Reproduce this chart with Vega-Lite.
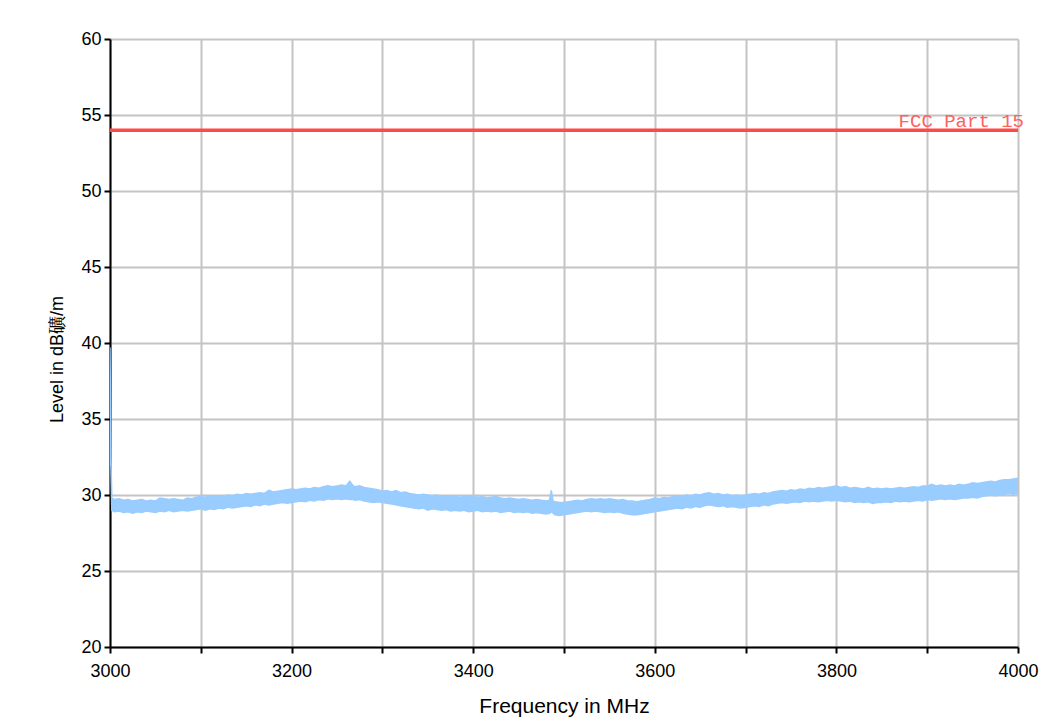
{
"$schema": "https://vega.github.io/schema/vega-lite/v6.json",
"width": 908, "height": 608,
"autosize": {"type": "none"},
"padding": {"left": 110, "top": 39, "right": 43, "bottom": 75},
"background": "white",
"config": {"view": {"stroke": null}, "font": "Liberation Sans"},
"datasets": {
"trace": [
{"f":3000,"lo":32.0,"hi":39.7},{"f":3001,"lo":31.9,"hi":32.3},{"f":3002,"lo":29.0,"hi":29.8},
{"f":3005,"lo":28.9,"hi":29.7},{"f":3010,"lo":28.95,"hi":29.75},{"f":3015,"lo":28.85,"hi":29.65},{"f":3020,"lo":28.9,"hi":29.7},
{"f":3025,"lo":28.8,"hi":29.6},{"f":3030,"lo":28.9,"hi":29.65},{"f":3035,"lo":28.85,"hi":29.7},{"f":3040,"lo":28.95,"hi":29.6},
{"f":3045,"lo":28.9,"hi":29.65},{"f":3050,"lo":28.85,"hi":29.6},{"f":3055,"lo":28.95,"hi":29.8},{"f":3060,"lo":28.9,"hi":29.75},
{"f":3065,"lo":29.0,"hi":29.7},{"f":3070,"lo":28.9,"hi":29.75},{"f":3075,"lo":28.95,"hi":29.7},{"f":3080,"lo":29.0,"hi":29.65},
{"f":3085,"lo":28.95,"hi":29.8},{"f":3090,"lo":29.0,"hi":29.75},{"f":3095,"lo":29.05,"hi":29.85},{"f":3100,"lo":29.1,"hi":29.9},
{"f":3105,"lo":29.0,"hi":29.85},{"f":3110,"lo":29.1,"hi":29.95},{"f":3115,"lo":29.05,"hi":29.9},{"f":3120,"lo":29.15,"hi":29.95},
{"f":3125,"lo":29.1,"hi":29.9},{"f":3130,"lo":29.2,"hi":30.0},{"f":3135,"lo":29.15,"hi":29.95},{"f":3140,"lo":29.2,"hi":30.05},
{"f":3145,"lo":29.25,"hi":30.0},{"f":3150,"lo":29.3,"hi":30.1},{"f":3155,"lo":29.25,"hi":30.05},{"f":3160,"lo":29.35,"hi":30.1},
{"f":3165,"lo":29.3,"hi":30.15},{"f":3170,"lo":29.4,"hi":30.1},{"f":3175,"lo":29.35,"hi":30.3},{"f":3180,"lo":29.4,"hi":30.2},
{"f":3185,"lo":29.45,"hi":30.25},{"f":3190,"lo":29.5,"hi":30.3},{"f":3195,"lo":29.45,"hi":30.35},{"f":3200,"lo":29.5,"hi":30.4},
{"f":3205,"lo":29.55,"hi":30.35},{"f":3210,"lo":29.6,"hi":30.4},{"f":3215,"lo":29.55,"hi":30.45},{"f":3220,"lo":29.65,"hi":30.4},
{"f":3225,"lo":29.6,"hi":30.5},{"f":3230,"lo":29.7,"hi":30.45},{"f":3235,"lo":29.65,"hi":30.55},{"f":3240,"lo":29.75,"hi":30.6},
{"f":3245,"lo":29.7,"hi":30.55},{"f":3250,"lo":29.75,"hi":30.6},{"f":3255,"lo":29.7,"hi":30.65},{"f":3260,"lo":29.75,"hi":30.6},
{"f":3264,"lo":29.7,"hi":30.9},{"f":3268,"lo":29.7,"hi":30.6},{"f":3270,"lo":29.65,"hi":30.55},{"f":3275,"lo":29.7,"hi":30.6},
{"f":3280,"lo":29.6,"hi":30.5},{"f":3285,"lo":29.55,"hi":30.45},{"f":3290,"lo":29.5,"hi":30.4},{"f":3295,"lo":29.55,"hi":30.35},
{"f":3300,"lo":29.5,"hi":30.25},{"f":3305,"lo":29.45,"hi":30.3},{"f":3310,"lo":29.4,"hi":30.2},{"f":3315,"lo":29.35,"hi":30.3},
{"f":3320,"lo":29.3,"hi":30.15},{"f":3325,"lo":29.25,"hi":30.2},{"f":3330,"lo":29.2,"hi":30.1},{"f":3335,"lo":29.15,"hi":30.05},
{"f":3340,"lo":29.1,"hi":30.0},{"f":3345,"lo":29.15,"hi":30.05},{"f":3350,"lo":29.0,"hi":30.0},{"f":3355,"lo":29.1,"hi":29.95},
{"f":3360,"lo":29.05,"hi":30.0},{"f":3365,"lo":29.0,"hi":29.9},{"f":3370,"lo":29.05,"hi":29.95},{"f":3375,"lo":28.95,"hi":29.9},
{"f":3380,"lo":29.0,"hi":29.95},{"f":3385,"lo":28.95,"hi":29.85},{"f":3390,"lo":29.0,"hi":29.9},{"f":3395,"lo":28.9,"hi":29.95},
{"f":3400,"lo":28.95,"hi":29.9},{"f":3405,"lo":29.0,"hi":29.85},{"f":3410,"lo":28.9,"hi":29.9},{"f":3415,"lo":28.95,"hi":29.8},
{"f":3420,"lo":28.9,"hi":29.85},{"f":3425,"lo":28.95,"hi":29.9},{"f":3430,"lo":28.85,"hi":29.8},{"f":3435,"lo":28.9,"hi":29.75},
{"f":3440,"lo":28.95,"hi":29.8},{"f":3445,"lo":28.85,"hi":29.75},{"f":3450,"lo":28.9,"hi":29.7},{"f":3455,"lo":28.85,"hi":29.75},
{"f":3460,"lo":28.9,"hi":29.7},{"f":3465,"lo":28.8,"hi":29.65},{"f":3470,"lo":28.85,"hi":29.7},{"f":3475,"lo":28.8,"hi":29.65},
{"f":3480,"lo":28.75,"hi":29.6},{"f":3484,"lo":28.8,"hi":29.65},{"f":3486,"lo":28.9,"hi":30.3},{"f":3488,"lo":28.8,"hi":29.6},
{"f":3490,"lo":28.7,"hi":29.55},{"f":3495,"lo":28.65,"hi":29.5},{"f":3500,"lo":28.7,"hi":29.5},{"f":3505,"lo":28.75,"hi":29.55},
{"f":3510,"lo":28.8,"hi":29.6},{"f":3515,"lo":28.85,"hi":29.65},{"f":3520,"lo":28.9,"hi":29.6},{"f":3525,"lo":28.95,"hi":29.7},
{"f":3530,"lo":28.9,"hi":29.75},{"f":3535,"lo":28.95,"hi":29.7},{"f":3540,"lo":28.9,"hi":29.75},{"f":3545,"lo":28.85,"hi":29.7},
{"f":3550,"lo":28.9,"hi":29.75},{"f":3555,"lo":28.85,"hi":29.7},{"f":3560,"lo":28.9,"hi":29.65},{"f":3565,"lo":28.8,"hi":29.7},
{"f":3570,"lo":28.75,"hi":29.6},{"f":3575,"lo":28.7,"hi":29.6},{"f":3580,"lo":28.7,"hi":29.55},{"f":3585,"lo":28.75,"hi":29.6},
{"f":3590,"lo":28.8,"hi":29.65},{"f":3595,"lo":28.85,"hi":29.7},{"f":3600,"lo":28.9,"hi":29.8},{"f":3605,"lo":28.95,"hi":29.75},
{"f":3610,"lo":29.0,"hi":29.85},{"f":3615,"lo":29.05,"hi":29.8},{"f":3620,"lo":29.1,"hi":29.9},{"f":3625,"lo":29.15,"hi":29.95},
{"f":3630,"lo":29.1,"hi":29.9},{"f":3635,"lo":29.2,"hi":30.0},{"f":3640,"lo":29.15,"hi":29.95},{"f":3645,"lo":29.25,"hi":30.05},
{"f":3650,"lo":29.2,"hi":30.0},{"f":3655,"lo":29.3,"hi":30.1},{"f":3660,"lo":29.35,"hi":30.15},{"f":3665,"lo":29.3,"hi":30.05},
{"f":3670,"lo":29.25,"hi":30.1},{"f":3675,"lo":29.3,"hi":30.0},{"f":3680,"lo":29.2,"hi":30.05},{"f":3685,"lo":29.25,"hi":29.95},
{"f":3690,"lo":29.2,"hi":30.0},{"f":3695,"lo":29.15,"hi":29.95},{"f":3700,"lo":29.2,"hi":30.0},{"f":3705,"lo":29.25,"hi":30.05},
{"f":3710,"lo":29.3,"hi":30.1},{"f":3715,"lo":29.25,"hi":30.05},{"f":3720,"lo":29.35,"hi":30.15},{"f":3725,"lo":29.3,"hi":30.1},
{"f":3730,"lo":29.4,"hi":30.2},{"f":3735,"lo":29.45,"hi":30.25},{"f":3740,"lo":29.5,"hi":30.3},{"f":3745,"lo":29.45,"hi":30.25},
{"f":3750,"lo":29.5,"hi":30.35},{"f":3755,"lo":29.55,"hi":30.3},{"f":3760,"lo":29.5,"hi":30.4},{"f":3765,"lo":29.6,"hi":30.35},
{"f":3770,"lo":29.55,"hi":30.45},{"f":3775,"lo":29.6,"hi":30.4},{"f":3780,"lo":29.55,"hi":30.5},{"f":3785,"lo":29.6,"hi":30.45},
{"f":3790,"lo":29.65,"hi":30.5},{"f":3795,"lo":29.6,"hi":30.55},{"f":3800,"lo":29.65,"hi":30.6},{"f":3805,"lo":29.6,"hi":30.5},
{"f":3810,"lo":29.55,"hi":30.55},{"f":3815,"lo":29.6,"hi":30.45},{"f":3820,"lo":29.5,"hi":30.5},{"f":3825,"lo":29.55,"hi":30.45},
{"f":3830,"lo":29.5,"hi":30.4},{"f":3835,"lo":29.55,"hi":30.5},{"f":3840,"lo":29.45,"hi":30.4},{"f":3845,"lo":29.5,"hi":30.45},
{"f":3850,"lo":29.5,"hi":30.4},{"f":3855,"lo":29.55,"hi":30.45},{"f":3860,"lo":29.5,"hi":30.4},{"f":3865,"lo":29.6,"hi":30.45},
{"f":3870,"lo":29.55,"hi":30.5},{"f":3875,"lo":29.6,"hi":30.45},{"f":3880,"lo":29.55,"hi":30.5},{"f":3885,"lo":29.6,"hi":30.55},
{"f":3890,"lo":29.65,"hi":30.5},{"f":3895,"lo":29.6,"hi":30.6},{"f":3900,"lo":29.7,"hi":30.6},{"f":3905,"lo":29.65,"hi":30.7},
{"f":3910,"lo":29.7,"hi":30.6},{"f":3915,"lo":29.75,"hi":30.65},{"f":3920,"lo":29.7,"hi":30.6},{"f":3925,"lo":29.75,"hi":30.65},
{"f":3930,"lo":29.7,"hi":30.6},{"f":3935,"lo":29.75,"hi":30.7},{"f":3940,"lo":29.8,"hi":30.65},{"f":3945,"lo":29.8,"hi":30.7},
{"f":3950,"lo":29.85,"hi":30.8},{"f":3955,"lo":29.8,"hi":30.75},{"f":3960,"lo":29.9,"hi":30.8},{"f":3965,"lo":29.95,"hi":30.85},
{"f":3970,"lo":30.0,"hi":30.9},{"f":3975,"lo":29.95,"hi":30.85},{"f":3980,"lo":30.0,"hi":30.95},{"f":3985,"lo":30.05,"hi":31.0},
{"f":3990,"lo":30.1,"hi":31.0},{"f":3995,"lo":30.05,"hi":31.05},{"f":4000,"lo":30.1,"hi":31.1}
],
"limit": [{"f":3000,"v":54,"label":""},{"f":4000,"v":54,"label":"FCC Part 15"}]
},
"layer": [
{
"data": {"name": "trace"},
"mark": {"type": "area", "color": "#99ccff", "stroke": "#99ccff", "strokeWidth": 1.5, "clip": true},
"encoding": {
"x": {"field": "f", "type": "quantitative",
"scale": {"domain": [3000, 4000], "nice": false, "zero": false},
"axis": {"title": "Frequency in MHz", "titleFontSize": 21, "titleFontWeight": "normal", "titleColor": "black", "titlePadding": 15,
"values": [3000,3100,3200,3300,3400,3500,3600,3700,3800,3900,4000],
"labelExpr": "datum.value % 200 == 0 ? datum.label : ''", "format": "d",
"labelFontSize": 18, "labelColor": "black", "labelPadding": 9, "labelFlush": false, "labelOverlap": false,
"grid": true, "gridColor": "#c4c4c4", "gridWidth": 2,
"domainColor": "black", "domainWidth": 2, "tickColor": "black", "tickWidth": 2, "tickSize": 6}},
"y": {"field": "hi", "type": "quantitative",
"scale": {"domain": [20, 60], "nice": false, "zero": false},
"axis": {"title": "Level in dB礦/m", "titleFontSize": 18, "titleFontWeight": "normal", "titleColor": "black", "titlePadding": 14, "titleY": 320,
"values": [20,22.5,25,27.5,30,32.5,35,37.5,40,42.5,45,47.5,50,52.5,55,57.5,60],
"labelExpr": "datum.value % 5 == 0 ? datum.label : ''",
"labelFontSize": 18, "labelColor": "black", "labelPadding": 3, "labelFlush": false, "labelOverlap": false,
"grid": true, "gridColor": "#c4c4c4", "gridWidth": 2,
"domainColor": "black", "domainWidth": 2, "tickColor": "black", "tickWidth": 2, "tickSize": 6}},
"y2": {"field": "lo"}
}
},
{
"data": {"name": "limit"},
"mark": {"type": "line", "color": "#ff4848", "strokeWidth": 3.5},
"encoding": {
"x": {"field": "f", "type": "quantitative"},
"y": {"field": "v", "type": "quantitative"}
}
},
{
"data": {"name": "limit"},
"mark": {"type": "text", "align": "right", "baseline": "alphabetic", "dx": 6, "dy": -3, "font": "Liberation Mono", "fontSize": 19, "color": "#ff6060"},
"encoding": {
"x": {"field": "f", "type": "quantitative"},
"y": {"field": "v", "type": "quantitative"},
"text": {"field": "label"}
}
}
]
}
